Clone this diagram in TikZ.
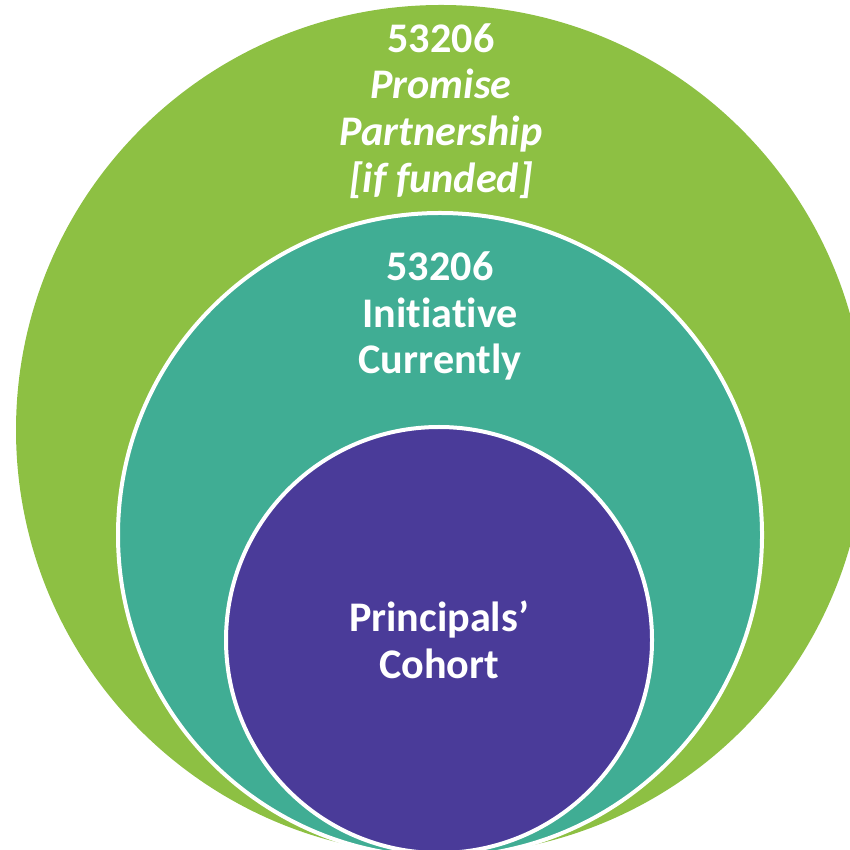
\documentclass[tikz,border=0pt]{standalone}
\usepackage{fontspec}
\setmainfont{Carlito}[Ligatures={NoCommon}]
\definecolor{ringgreen}{RGB}{141,192,67}
\definecolor{ringteal}{RGB}{64,173,148}
\definecolor{ringpurple}{RGB}{74,59,153}
\tikzset{
  ring/.style={circle, inner sep=0pt, draw=white, line width=0.4mm},
  ringtext/.style={text=white, align=center, font=\bfseries\fontsize{12}{13.3}\selectfont}
}

\begin{document}
\begin{tikzpicture}
			%%%%% START %%%%%
			\useasboundingbox (0, 0) rectangle (8.5, -8.5);
			\clip (0, 0) rectangle (8.5, -8.5);
			
			\node[ring, draw=none, fill=ringgreen, minimum size=8.5cm] (promise) at (4.41, -4.30) {};
			\node[ring, fill=ringteal, minimum size=6.44cm] (initiative) at (4.40, -5.35) {};
			\node[ring, fill=ringpurple, minimum size=4.26cm] (cohort) at (4.39, -6.40) {};
			
			\node[ringtext] (promisetext) at (4.41, -1.11) {53206\\\itshape Promise\\\itshape Partnership\\\itshape [if funded]};
			\node[ringtext] (initiativetext) at (4.40, -3.16) {53206\\Initiative\\Currently};
			\node[ringtext] (cohorttext) at (cohort) {Principals’\\Cohort};
			
			%%%%% END %%%%%
\end{tikzpicture}
\end{document}
